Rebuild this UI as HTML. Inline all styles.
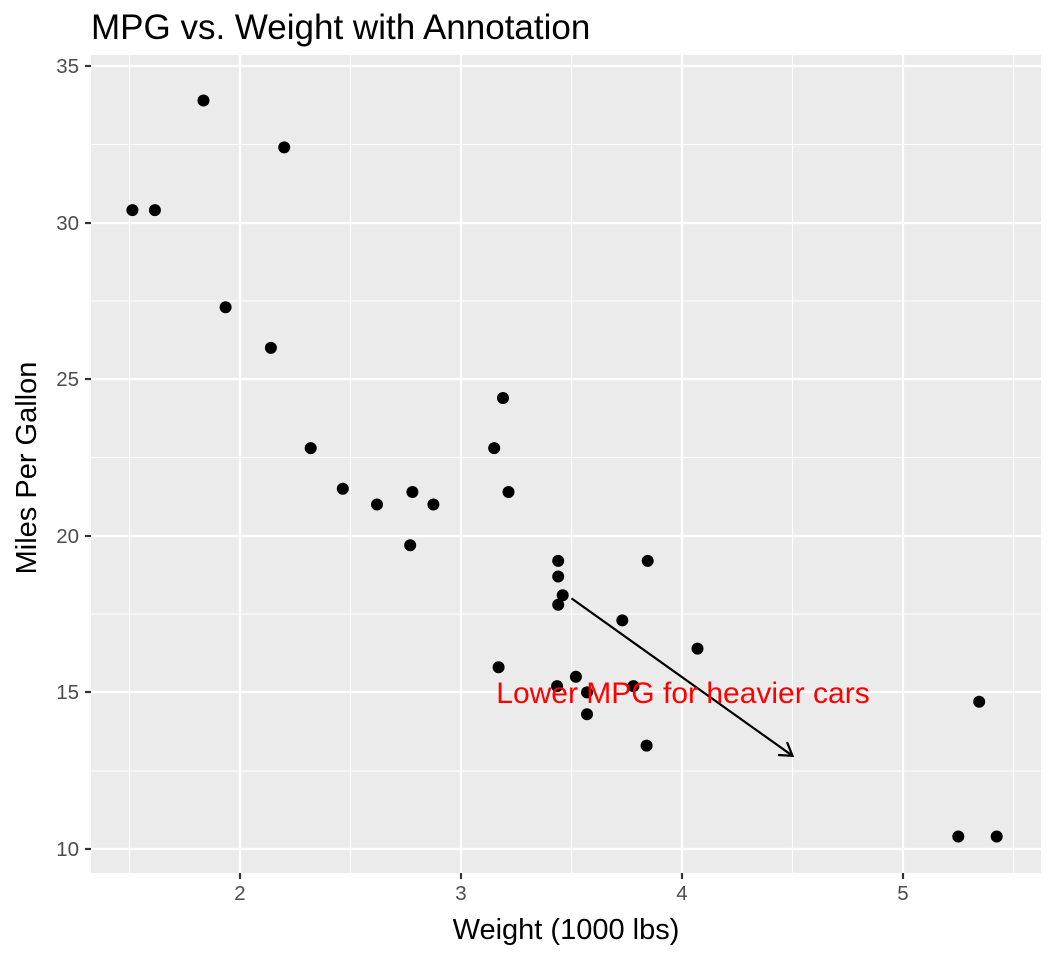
<!DOCTYPE html>
<html><head><meta charset="utf-8"><style>body{margin:0;background:#fff}svg{display:block}text{font-family:"Liberation Sans",sans-serif}</style></head>
<body>
<svg width="1056" height="960" xmlns="http://www.w3.org/2000/svg">
<rect width="1056" height="960" fill="#fff"/>
<rect x="91" y="55" width="950" height="818" fill="#EBEBEB"/>
<g stroke="#fff" stroke-width="1.1">
<line x1="129.5" x2="129.5" y1="55" y2="873"/><line x1="350.5" x2="350.5" y1="55" y2="873"/><line x1="571.5" x2="571.5" y1="55" y2="873"/><line x1="792.5" x2="792.5" y1="55" y2="873"/><line x1="1013.5" x2="1013.5" y1="55" y2="873"/>
<line x1="91" x2="1041" y1="144.5" y2="144.5"/><line x1="91" x2="1041" y1="301" y2="301"/><line x1="91" x2="1041" y1="457.5" y2="457.5"/><line x1="91" x2="1041" y1="614" y2="614"/><line x1="91" x2="1041" y1="771" y2="771"/>
</g>
<g stroke="#fff" stroke-width="2.2">
<line x1="240" x2="240" y1="55" y2="873"/><line x1="461" x2="461" y1="55" y2="873"/><line x1="682" x2="682" y1="55" y2="873"/><line x1="903" x2="903" y1="55" y2="873"/>
<line x1="91" x2="1041" y1="66" y2="66"/><line x1="91" x2="1041" y1="223" y2="223"/><line x1="91" x2="1041" y1="379" y2="379"/><line x1="91" x2="1041" y1="536" y2="536"/><line x1="91" x2="1041" y1="692" y2="692"/><line x1="91" x2="1041" y1="849" y2="849"/>
</g>
<g stroke="#333" stroke-width="2.2">
<line x1="240" x2="240" y1="873" y2="879"/><line x1="461" x2="461" y1="873" y2="879"/><line x1="682" x2="682" y1="873" y2="879"/><line x1="903" x2="903" y1="873" y2="879"/>
<line x1="85" x2="91" y1="66" y2="66"/><line x1="85" x2="91" y1="223" y2="223"/><line x1="85" x2="91" y1="379" y2="379"/><line x1="85" x2="91" y1="536" y2="536"/><line x1="85" x2="91" y1="692" y2="692"/><line x1="85" x2="91" y1="849" y2="849"/>
</g>
<g font-size="20.5" fill="#4D4D4D" text-anchor="middle">
<text x="240" y="900">2</text><text x="461" y="900">3</text><text x="682" y="900">4</text><text x="903" y="900">5</text>
</g>
<g font-size="20.5" fill="#4D4D4D" text-anchor="end">
<text x="79" y="73">35</text><text x="79" y="230">30</text><text x="79" y="386">25</text><text x="79" y="543">20</text><text x="79" y="699">15</text><text x="79" y="856">10</text>
</g>
<text x="566" y="939" font-size="29" text-anchor="middle">Weight (1000 lbs)</text>
<text transform="translate(36,468) rotate(-90)" font-size="29" text-anchor="middle">Miles Per Gallon</text>
<text x="91" y="39" font-size="35">MPG vs. Weight with Annotation</text>
<g fill="#000">
<circle cx="377.0" cy="504.5" r="6"/><circle cx="433.4" cy="504.5" r="6"/><circle cx="310.7" cy="448.1" r="6"/><circle cx="508.5" cy="492.0" r="6"/>
<circle cx="558.2" cy="576.5" r="6"/><circle cx="562.7" cy="595.3" r="6"/><circle cx="587.0" cy="714.3" r="6"/><circle cx="503.0" cy="398.0" r="6"/>
<circle cx="494.2" cy="448.1" r="6"/><circle cx="558.2" cy="560.9" r="6"/><circle cx="558.2" cy="604.7" r="6"/><circle cx="697.5" cy="648.6" r="6"/>
<circle cx="622.3" cy="620.4" r="6"/><circle cx="633.4" cy="686.1" r="6"/><circle cx="958.3" cy="836.5" r="6"/><circle cx="996.7" cy="836.5" r="6"/>
<circle cx="979.2" cy="701.8" r="6"/><circle cx="284.2" cy="147.4" r="6"/><circle cx="154.9" cy="210.1" r="6"/><circle cx="203.5" cy="100.5" r="6"/>
<circle cx="342.8" cy="488.8" r="6"/><circle cx="575.9" cy="676.7" r="6"/><circle cx="557.1" cy="686.1" r="6"/><circle cx="646.6" cy="745.6" r="6"/>
<circle cx="647.7" cy="560.9" r="6"/><circle cx="225.6" cy="307.2" r="6"/><circle cx="270.9" cy="347.9" r="6"/><circle cx="132.4" cy="210.1" r="6"/>
<circle cx="498.6" cy="667.3" r="6"/><circle cx="410.2" cy="545.2" r="6"/><circle cx="587.0" cy="692.4" r="6"/><circle cx="412.4" cy="492.0" r="6"/>
</g>
<line x1="571.5" y1="598.4" x2="792.5" y2="755.8" stroke="#000" stroke-width="2.2"/>
<polyline points="778,755 792.5,755.8 787,742" fill="none" stroke="#000" stroke-width="2.2"/>
<text x="683" y="703" font-size="30" fill="#FF0000" text-anchor="middle">Lower MPG for heavier cars</text>
</svg>
</body></html>
